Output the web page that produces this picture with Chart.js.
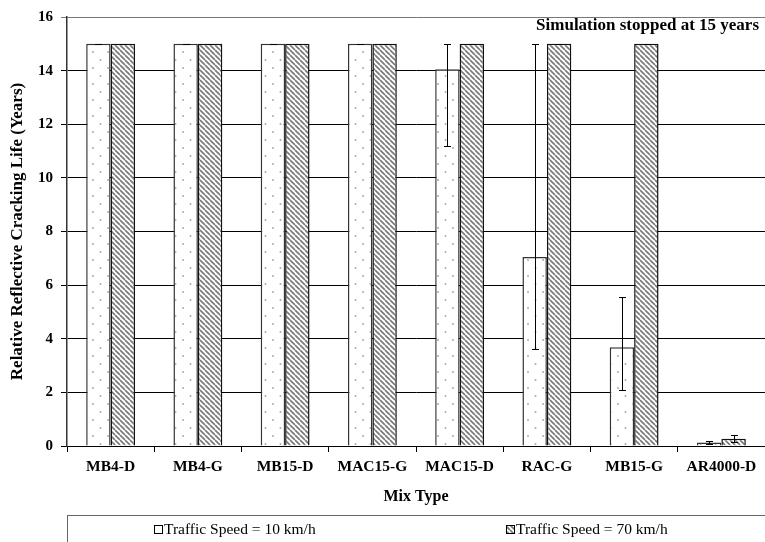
<!DOCTYPE html>
<html>
<head>
<meta charset="utf-8">
<script src="https://cdn.jsdelivr.net/npm/chart.js@4/dist/chart.umd.min.js"></script>
<style>
  html, body { margin: 0; padding: 0; background: #fff; }
  #wrap { width: 765px; height: 542px; }
</style>
</head>
<body>
<div id="wrap"><canvas id="c" width="765" height="542"></canvas></div>
<script>
// Mix types on the horizontal axis
const mixTypes = ['MB4-D', 'MB4-G', 'MB15-D', 'MAC15-G', 'MAC15-D', 'RAC-G', 'MB15-G', 'AR4000-D'];

// Relative reflective cracking life (years), by traffic speed
const speed10 = [15, 15, 15, 15, 14.05, 7.05, 3.68, 0.13];
const speed70 = [15, 15, 15, 15, 15, 15, 15, 0.27];

// Error bar ranges (low / high), years
const speed10Low  = [15, 15, 15, 15, 11.2, 3.6, 2.07, 0.08];
const speed10High = [15, 15, 15, 15, 15, 15, 5.55, 0.2];
const speed70Low  = [15, 15, 15, 15, 15, 15, 15, 0.16];
const speed70High = [15, 15, 15, 15, 15, 15, 15, 0.41];

// Y axis ticks
const yTicks = [0, 2, 4, 6, 8, 10, 12, 14, 16];

const seriesLabels = ['Traffic Speed = 10 km/h', 'Traffic Speed = 70 km/h'];
const noteText = 'Simulation stopped at 15 years';

const SERIF = '"Liberation Serif", "Times New Roman", serif';

// Sparse staggered dot fill
function dotPattern() {
  const t = document.createElement('canvas');
  t.width = 15; t.height = 16;
  const g = t.getContext('2d');
  g.fillStyle = '#ffffff';
  g.fillRect(0, 0, 15, 16);
  g.fillStyle = '#acacac';
  [[3, 4], [10.5, 12]].forEach(([x, y]) => {
    g.beginPath(); g.arc(x, y, 1, 0, Math.PI * 2); g.fill();
  });
  return g.createPattern(t, 'repeat');
}

// Diagonal hatch fill, lines running top-left to bottom-right
function hatchPattern() {
  const s = 5;
  const t = document.createElement('canvas');
  t.width = s; t.height = s;
  const g = t.getContext('2d');
  g.fillStyle = '#ffffff';
  g.fillRect(0, 0, s, s);
  g.strokeStyle = '#7a7a7a';
  g.lineWidth = 1.7;
  for (let k = -1; k <= 1; k++) {
    g.beginPath();
    g.moveTo(k * s, 0);
    g.lineTo(k * s + s, s);
    g.stroke();
  }
  return g.createPattern(t, 'repeat');
}

const dots = dotPattern();
const hatch = hatchPattern();

const errorRanges = [
  { low: speed10Low, high: speed10High },
  { low: speed70Low, high: speed70High }
];

// Draws vertical error bars with caps on every bar
const errorBarPlugin = {
  id: 'errorBars',
  afterDatasetsDraw(chart) {
    const ctx = chart.ctx;
    const y = chart.scales.y;
    ctx.save();
    ctx.strokeStyle = '#000';
    ctx.lineWidth = 1;
    chart.data.datasets.forEach((ds, di) => {
      const meta = chart.getDatasetMeta(di);
      meta.data.forEach((bar, i) => {
        const x = Math.round(bar.x) + 0.5;
        const yl = Math.round(y.getPixelForValue(errorRanges[di].low[i])) + 0.5;
        const yh = Math.round(y.getPixelForValue(errorRanges[di].high[i])) + 0.5;
        const cap = 3.5;
        ctx.beginPath();
        ctx.moveTo(x, yl); ctx.lineTo(x, yh);
        ctx.moveTo(x - cap, yl); ctx.lineTo(x + cap, yl);
        ctx.moveTo(x - cap, yh); ctx.lineTo(x + cap, yh);
        ctx.stroke();
      });
    });
    ctx.restore();
  }
};

// Note text and the boxed legend beneath the axis title
const extrasPlugin = {
  id: 'extras',
  afterDraw(chart) {
    const ctx = chart.ctx;
    const area = chart.chartArea;
    ctx.save();
    ctx.fillStyle = '#000';
    ctx.font = 'bold 17px ' + SERIF;
    ctx.textAlign = 'right';
    ctx.textBaseline = 'middle';
    ctx.fillText(noteText, area.right - 6, 26);

    // legend frame
    ctx.strokeStyle = '#666';
    ctx.lineWidth = 1;
    ctx.strokeRect(area.left + 0.5, 515.5, chart.width, 40);

    ctx.font = '15.5px ' + SERIF;
    ctx.textAlign = 'left';
    const items = [
      { x: 154, fill: '#fff', text: seriesLabels[0] },
      { x: 506, fill: hatch, text: seriesLabels[1] }
    ];
    items.forEach(it => {
      ctx.fillStyle = it.fill;
      ctx.fillRect(it.x, 525, 8, 8);
      ctx.strokeStyle = '#000';
      ctx.strokeRect(it.x + 0.5, 525.5, 8, 8);
      ctx.fillStyle = '#000';
      ctx.fillText(it.text, it.x + 10, 530);
    });
    ctx.restore();
  }
};

new Chart(document.getElementById('c'), {
  type: 'bar',
  data: {
    labels: mixTypes,
    datasets: [
      {
        label: seriesLabels[0],
        data: speed10,
        backgroundColor: dots,
        borderColor: '#333',
        borderWidth: 1.5,
        categoryPercentage: 0.56,
        barPercentage: 1.0
      },
      {
        label: seriesLabels[1],
        data: speed70,
        backgroundColor: hatch,
        borderColor: '#111',
        borderWidth: 1.5,
        categoryPercentage: 0.56,
        barPercentage: 1.0
      }
    ]
  },
  options: {
    responsive: false,
    animation: false,
    devicePixelRatio: 1,
    layout: { padding: { top: 15, right: 0, bottom: 36, left: 0 } },
    plugins: {
      legend: { display: false },
      tooltip: { enabled: false }
    },
    scales: {
      x: {
        afterFit(s) { s.height = 60; },
        grid: {
          display: true,
          drawOnChartArea: false,
          drawTicks: true,
          tickLength: 6,
          color: '#000'
        },
        border: { color: '#000', width: 1 },
        ticks: {
          color: '#000',
          padding: 6,
          font: { family: SERIF, size: 15.5, weight: 'bold' }
        },
        title: {
          display: true,
          text: 'Mix Type',
          color: '#000',
          padding: { top: 0, bottom: 0 },
          font: { family: SERIF, size: 16, weight: 'bold' }
        }
      },
      y: {
        min: 0,
        max: 16,
        afterFit(s) { s.width = 67; },
        afterBuildTicks(s) { s.ticks = yTicks.map(v => ({ value: v })); },
        grid: {
          color: ctx => (ctx.tick && ctx.tick.value === 16 ? '#777' : '#000'),
          lineWidth: 1,
          tickLength: 6,
          drawTicks: true
        },
        border: { color: '#333', width: 1.5 },
        ticks: {
          color: '#000',
          padding: 8,
          font: { family: SERIF, size: 15, weight: 'bold' }
        },
        title: {
          display: true,
          text: 'Relative Reflective Cracking Life (Years)',
          color: '#000',
          padding: { top: 7, bottom: 0 },
          font: { family: SERIF, size: 17, weight: 'bold' }
        }
      }
    }
  },
  plugins: [errorBarPlugin, extrasPlugin]
});
</script>
</body>
</html>
